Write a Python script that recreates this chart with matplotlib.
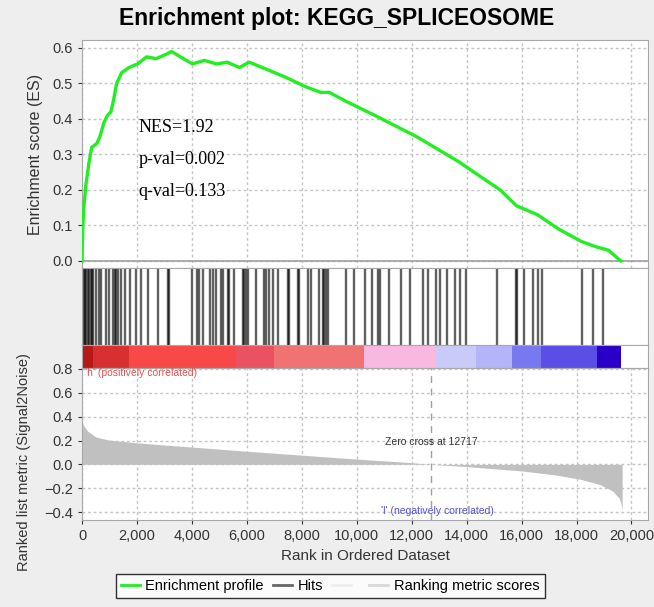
import matplotlib
matplotlib.use('Agg')
import matplotlib.pyplot as plt
from matplotlib.lines import Line2D
from matplotlib.ticker import FuncFormatter

plt.rcParams['font.family'] = ['Liberation Sans', 'DejaVu Sans']

# enrichment score curve
es_rank = [0, 30, 76, 150, 260, 350, 530, 650, 800, 925, 1050, 1140, 1260, 1440,
           1710, 2020, 2350, 2700, 3000, 3260, 3690, 4020, 4450, 4900, 5280, 5730,
           6080, 6720, 7480, 8160, 8690, 9000, 9600, 10660, 12180, 13700, 15220,
           15820, 16580, 17340, 18170, 18700, 19160, 19610]
es_value = [0.0, 0.10, 0.16, 0.22, 0.28, 0.32, 0.33, 0.35, 0.39, 0.41, 0.42, 0.45,
            0.50, 0.53, 0.545, 0.555, 0.575, 0.57, 0.58, 0.59, 0.57, 0.555, 0.565,
            0.555, 0.56, 0.545, 0.56, 0.54, 0.515, 0.49, 0.475, 0.475, 0.45, 0.41,
            0.35, 0.28, 0.20, 0.155, 0.13, 0.09, 0.055, 0.04, 0.03, 0.0]

# positions of gene set members in the ranked list
hits = [10, 60, 110, 160, 210, 260, 310, 360, 400, 516, 613, 697, 879, 976, 1122,
        1183, 1243, 1304, 1425, 1547, 1729, 1947, 2153, 2396, 2760, 3124, 3184,
        4009, 4179, 4276, 4397, 4664, 4785, 4882, 5064, 5125, 5307, 5367, 5549,
        5853, 5913, 5974, 6034, 6338, 6641, 6702, 6823, 6944, 7126, 7490, 7551,
        7854, 7915, 8218, 8339, 8618, 8764, 8824, 8885, 8946, 9613, 9916, 10283,
        10562, 10768, 10829, 11168, 11593, 11920, 12405, 12587, 12891, 13036,
        13279, 13594, 13764, 13983, 15099, 15802, 15838, 16105, 16408, 16590,
        16748, 18192, 18592, 18980]

# ranked list metric (Signal2Noise)
metric_rank = [0, 45, 200, 500, 950, 2000, 4000, 6000, 8000, 10000, 12000, 12717,
               14000, 16000, 17200, 18100, 18860, 19320, 19540, 19620, 19660]
metric_value = [0.36, 0.33, 0.28, 0.23, 0.205, 0.18, 0.145, 0.11, 0.077, 0.044,
                0.014, 0.0, -0.019, -0.055, -0.088, -0.123, -0.17, -0.225, -0.28,
                -0.33, -0.39]

# colour strip under the hits
bar_edges = [0, 400, 1700, 5600, 7000, 10280, 12830, 14350, 15650, 16710, 18750, 19620]
bar_colors = ['#b81818', '#d83030', '#f84848', '#ea5262', '#f07272', '#f8b8e0',
              '#cacaf8', '#b4b4f8', '#7878f0', '#5a4ee6', '#2a00c8']

zero_cross = 12717
n_genes = 20600

fig = plt.figure(figsize=(6.54, 6.07), dpi=100, facecolor='#eeeeee')
left, width = 0.1254, 0.8654
ax1 = fig.add_axes([left, 0.5585, width, 0.3756])
ax2 = fig.add_axes([left, 0.4316, width, 0.1269])
ax3 = fig.add_axes([left, 0.3937, width, 0.0379])
ax4 = fig.add_axes([left, 0.1433, width, 0.2504])

xt = list(range(0, 20001, 2000))
grid_kw = dict(color='#c4c4c4', linestyle=(0, (2, 2)), linewidth=1.0)

for ax in (ax1, ax2, ax3, ax4):
    ax.set_xlim(0, n_genes)
    for s in ax.spines.values():
        s.set_color('#a8a8a8')
    ax.tick_params(colors='#333333', labelsize=10.5, length=3, width=0.8)

# top: enrichment profile
ax1.set_axisbelow(True)
ax1.plot(es_rank, es_value, color='#22ee22', lw=2.4, solid_joinstyle='round', zorder=3)
ax1.set_ylim(-0.02, 0.6225)
ax1.set_yticks([0.0, 0.1, 0.2, 0.3, 0.4, 0.5, 0.6])
ax1.set_xticks(xt)
ax1.tick_params(axis='x', length=0, labelbottom=False)
ax1.grid(True, **grid_kw)
ax1.axhline(0, color='#a0a0a0', lw=1.2)
ax1.text(2050, 0.375, 'NES=1.92', family='Liberation Serif', fontsize=13, va='center')
ax1.text(2050, 0.285, 'p-val=0.002', family='Liberation Serif', fontsize=13, va='center')
ax1.text(2050, 0.195, 'q-val=0.133', family='Liberation Serif', fontsize=13, va='center')

# middle: hits
ax2.vlines(hits, 0, 1, color='black', alpha=0.62, lw=1.7)
ax2.set_ylim(0, 1)
ax2.set_xticks([])
ax2.set_yticks([])

# colour strip
for i, c in enumerate(bar_colors):
    ax3.axvspan(bar_edges[i], bar_edges[i + 1], color=c, lw=0)
ax3.set_xticks([])
ax3.set_yticks([])

# bottom: ranked list metric
ax4.set_axisbelow(True)
ax4.fill_between(metric_rank, 0, metric_value, color='#c0c0c0', lw=0, zorder=2)
ax4.set_ylim(-0.467, 0.808)
ax4.set_yticks([-0.4, -0.2, 0.0, 0.2, 0.4, 0.6, 0.8])
ax4.set_xticks(xt)
ax4.xaxis.set_major_formatter(FuncFormatter(lambda v, p: f'{int(v):,}'))
ax4.grid(True, **grid_kw)
ax4.axvline(zero_cross, color='#a0a0a0', lw=1.0, ls=(0, (5, 4)), zorder=3)
ax4.text(12700, 0.19, 'Zero cross at 12717', fontsize=7.5, color='#333333', ha='center', va='center')
ax4.text(100, 0.77, "'h' (positively correlated)", fontsize=7.5, color='#e05050', ha='left', va='center')
ax4.text(12950, -0.39, "'l' (negatively correlated)", fontsize=7.5, color='#5050e0', ha='center', va='center')
ax4.set_xlabel('Rank in Ordered Dataset', fontsize=11, color='#333333', labelpad=4)

fig.text(0.054, 0.746, 'Enrichment score (ES)', rotation=90, fontsize=11.5,
         color='#333333', ha='center', va='center')
fig.text(0.037, 0.238, 'Ranked list metric (Signal2Noise)', rotation=90, fontsize=10.5,
         color='#333333', ha='center', va='center')
fig.text(0.515, 0.97, 'Enrichment plot: KEGG_SPLICEOSOME', fontsize=16.5,
         fontweight='bold', ha='center', va='center')

handles = [Line2D([], [], color='#22ee22', lw=2),
           Line2D([], [], color='#666666', lw=2),
           Line2D([], [], color='#eeeeee', lw=2),
           Line2D([], [], color='#d8d8d8', lw=2)]
labels = ['Enrichment profile', 'Hits', ' ', 'Ranking metric scores']
leg = fig.legend(handles, labels, loc='center', bbox_to_anchor=(0.505, 0.035), ncol=4,
                 fontsize=10.5, frameon=True, fancybox=False, edgecolor='black',
                 handlelength=1.3, handletextpad=0.4, columnspacing=0.6,
                 borderpad=0.35)
leg.get_frame().set_linewidth(1.0)

fig.savefig('out.png', dpi=100, facecolor=fig.get_facecolor())
